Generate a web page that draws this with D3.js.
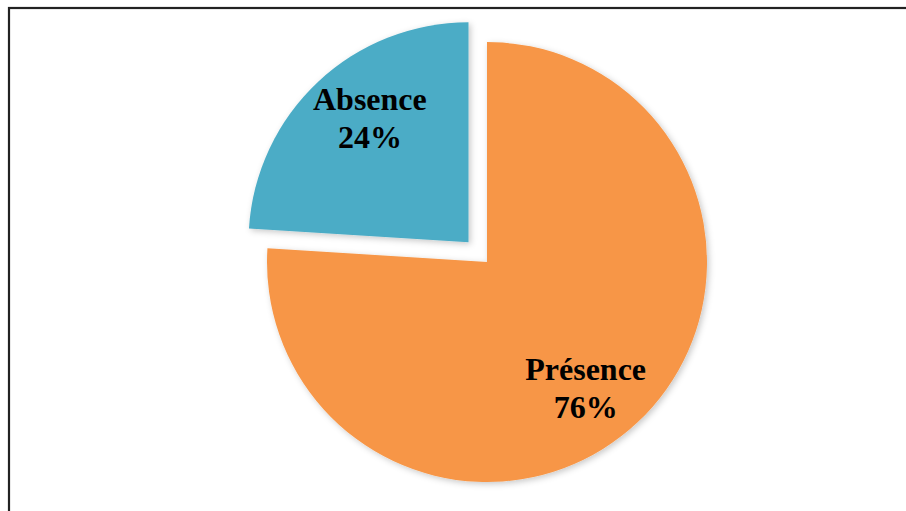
<!DOCTYPE html>
<html>
<head>
<meta charset="utf-8">
<script src="https://cdn.jsdelivr.net/npm/d3@7"></script>
<style>
  html, body { margin: 0; padding: 0; background: #ffffff; }
  svg { display: block; }
</style>
</head>
<body>
<svg id="chart" width="906" height="511"></svg>
<script>
// Pie data: presence vs absence
const categories = ["Présence", "Absence"];
const values = [76, 24];
const colors = ["#F79646", "#4BACC6"];

const width = 906, height = 511;
const cx = 487, cy = 262, radius = 220;
const explodeOffset = 27;             // pull-out distance of the Absence slice
const labelRadius = 0.725 * radius;
const labelTurn = 5 * Math.PI / 180;  // labels sit slightly clockwise of the slice bisector

const svg = d3.select("#chart");

// Frame around the chart area
svg.append("rect")
  .attr("x", 9).attr("y", 8)
  .attr("width", width + 20).attr("height", height + 20)
  .attr("fill", "none")
  .attr("stroke", "#222")
  .attr("stroke-width", 2.2);

// Soft shadow under the slices
const defs = svg.append("defs");
const f = defs.append("filter").attr("id", "shadow")
  .attr("x", "-10%").attr("y", "-10%").attr("width", "120%").attr("height", "120%");
f.append("feDropShadow")
  .attr("dx", 2).attr("dy", 2).attr("stdDeviation", 3)
  .attr("flood-color", "#000").attr("flood-opacity", 0.22);

const data = categories.map((c, i) => ({ name: c, value: values[i], color: colors[i] }));

const pie = d3.pie().sort(null).value(d => d.value);
const arcs = pie(data);

const arc = d3.arc().innerRadius(0).outerRadius(radius);

const g = svg.append("g").attr("transform", `translate(${cx},${cy})`);

const slices = g.selectAll("g.slice")
  .data(arcs)
  .join("g")
  .attr("class", "slice")
  .attr("transform", d => {
    if (d.data.name !== "Absence") return null;
    const mid = (d.startAngle + d.endAngle) / 2;
    return `translate(${Math.sin(mid) * explodeOffset},${-Math.cos(mid) * explodeOffset})`;
  });

slices.append("path")
  .attr("d", arc)
  .attr("fill", d => d.data.color)
  .attr("filter", "url(#shadow)");

// Two-line labels: category name and percentage
const labels = slices.append("text")
  .attr("transform", d => {
    const a = (d.startAngle + d.endAngle) / 2 + labelTurn;
    return `translate(${Math.sin(a) * labelRadius},${-Math.cos(a) * labelRadius})`;
  })
  .attr("text-anchor", "middle")
  .attr("font-family", "'Liberation Serif', 'Times New Roman', serif")
  .attr("font-weight", "bold")
  .attr("font-size", 32)
  .attr("fill", "#000");

labels.append("tspan").attr("x", 0).attr("y", -7).text(d => d.data.name);
labels.append("tspan").attr("x", 0).attr("y", 31).text(d => d.data.value + "%");
</script>
</body>
</html>
